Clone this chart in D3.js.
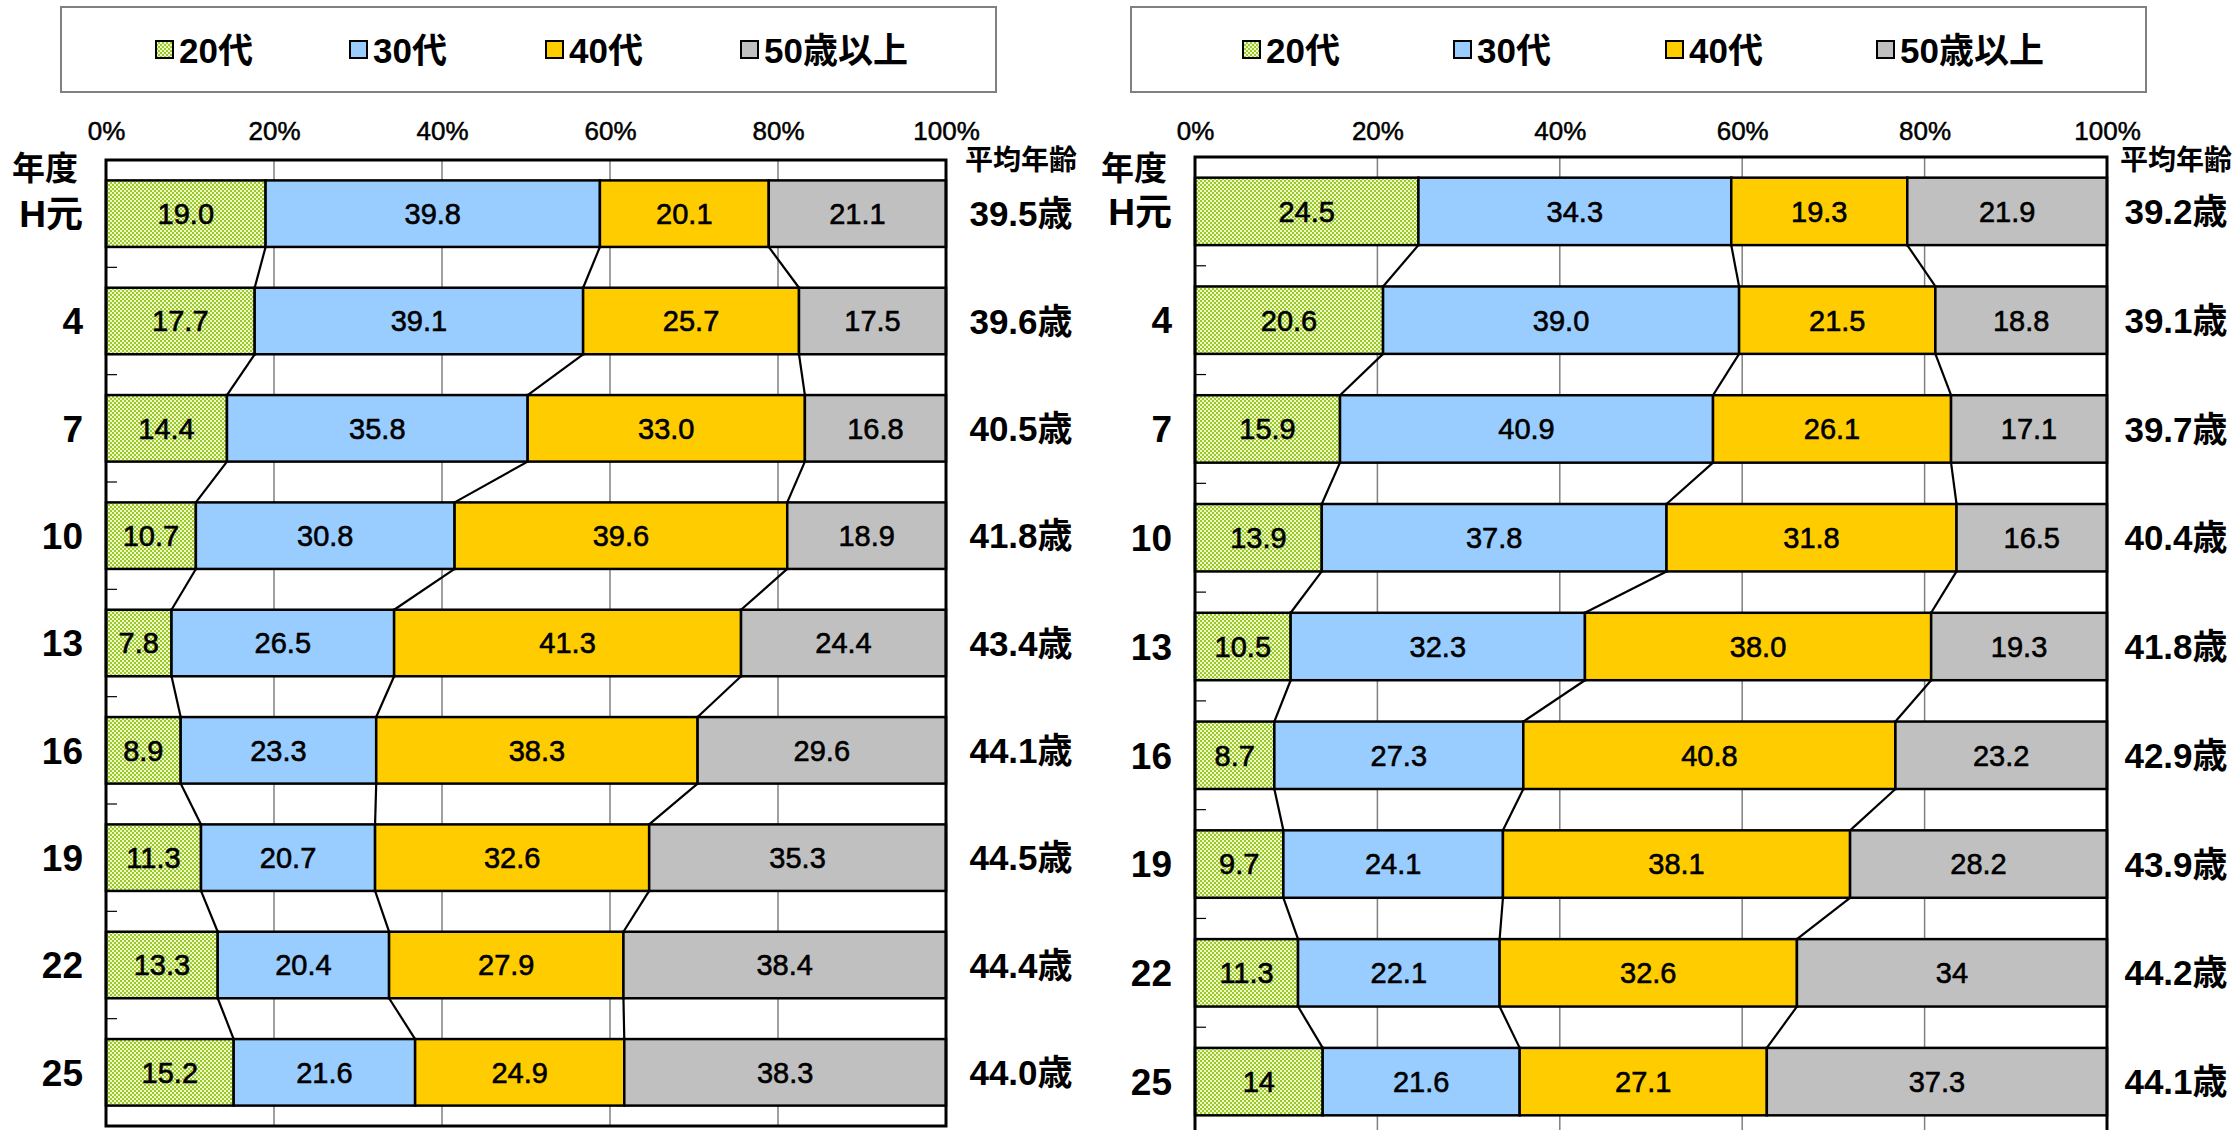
<!DOCTYPE html>
<html>
<head>
<meta charset="utf-8">
<script src="https://cdn.jsdelivr.net/npm/d3@7"></script>
<style>
  body { margin: 0; background: #fff; }
  text { font-family: "Liberation Sans", Arial, "Noto Sans CJK JP", sans-serif; fill: #000; }
</style>
</head>
<body>
<script>
// categories and ticks
var years = ["H元", "4", "7", "10", "13", "16", "19", "22", "25"];
var seriesNames = ["20代", "30代", "40代", "50歳以上"];
var xTicks = [0, 0.2, 0.4, 0.6, 0.8, 1];

// left chart, values as printed on the bars
var left20 = ["19.0", "17.7", "14.4", "10.7", "7.8", "8.9", "11.3", "13.3", "15.2"];
var left30 = ["39.8", "39.1", "35.8", "30.8", "26.5", "23.3", "20.7", "20.4", "21.6"];
var left40 = ["20.1", "25.7", "33.0", "39.6", "41.3", "38.3", "32.6", "27.9", "24.9"];
var left50 = ["21.1", "17.5", "16.8", "18.9", "24.4", "29.6", "35.3", "38.4", "38.3"];
var leftAvg = [39.5, 39.6, 40.5, 41.8, 43.4, 44.1, 44.5, 44.4, 44.0];

// right chart
var right20 = ["24.5", "20.6", "15.9", "13.9", "10.5", "8.7", "9.7", "11.3", "14"];
var right30 = ["34.3", "39.0", "40.9", "37.8", "32.3", "27.3", "24.1", "22.1", "21.6"];
var right40 = ["19.3", "21.5", "26.1", "31.8", "38.0", "40.8", "38.1", "32.6", "27.1"];
var right50 = ["21.9", "18.8", "17.1", "16.5", "19.3", "23.2", "28.2", "34", "37.3"];
var rightAvg = [39.2, 39.1, 39.7, 40.4, 41.8, 42.9, 43.9, 44.2, 44.1];

var colors = ["url(#dots)", "#99ccff", "#ffcc00", "#c0c0c0"];

var svg = d3.select("body").append("svg")
    .attr("width", 2239)
    .attr("height", 1130);

// checkered fill for 20代
var pat = svg.append("defs").append("pattern")
    .attr("id", "dots")
    .attr("width", 4).attr("height", 4)
    .attr("patternUnits", "userSpaceOnUse");
pat.append("rect").attr("width", 4).attr("height", 4).attr("fill", "#eef7c8");
pat.append("rect").attr("width", 2).attr("height", 2).attr("fill", "#9cc92a");
pat.append("rect").attr("x", 2).attr("y", 2).attr("width", 2).attr("height", 2).attr("fill", "#9cc92a");

drawChart({
    series: [left20, left30, left40, left50], avg: leftAvg,
    x0: 106, x1: 946, y0: 160, y1: 1126,
    legendBox: [61, 996], legendItems: [156, 350, 546, 741],
    avgX: 1021
});
drawChart({
    series: [right20, right30, right40, right50], avg: rightAvg,
    x0: 1195, x1: 2107, y0: 157, y1: 1136,
    legendBox: [1131, 2146], legendItems: [1243, 1454, 1666, 1877],
    avgX: 2176
});

function drawChart(c) {
    var g = svg.append("g");

    var rows = years.map(function (y, i) {
        var r = {year: y};
        seriesNames.forEach(function (s, k) { r[s] = +c.series[k][i]; });
        return r;
    });
    var stacked = d3.stack().keys(seriesNames).offset(d3.stackOffsetExpand)(rows);

    var x = d3.scaleLinear().domain([0, 1]).range([c.x0, c.x1]);
    var y = d3.scaleBand().domain(years).range([c.y0, c.y1])
        .paddingInner(0.38).paddingOuter(0.19);
    var bw = y.bandwidth();

    // legend
    g.append("rect")
        .attr("x", c.legendBox[0]).attr("y", 7)
        .attr("width", c.legendBox[1] - c.legendBox[0]).attr("height", 85)
        .attr("fill", "#fff").attr("stroke", "#808080").attr("stroke-width", 2);
    seriesNames.forEach(function (s, k) {
        var lx = c.legendItems[k];
        g.append("rect")
            .attr("x", lx).attr("y", 41).attr("width", 17).attr("height", 17)
            .attr("fill", colors[k]).attr("stroke", "#000").attr("stroke-width", 2);
        g.append("text")
            .attr("x", lx + 23).attr("y", 50).attr("dy", "0.36em")
            .attr("font-size", 35).attr("font-weight", "bold")
            .text(s);
    });

    // gridlines
    g.selectAll(".grid")
        .data(xTicks.slice(1, -1))
        .enter().append("line")
        .attr("x1", x).attr("x2", x)
        .attr("y1", c.y0).attr("y2", c.y1)
        .attr("stroke", "#808080").attr("stroke-width", 1.5);

    // category ticks between bands
    g.selectAll(".ctick")
        .data(years.slice(1))
        .enter().append("line")
        .attr("x1", c.x0).attr("x2", c.x0 + 11)
        .attr("y1", function (d, i) { return c.y0 + (i + 1) * y.step(); })
        .attr("y2", function (d, i) { return c.y0 + (i + 1) * y.step(); })
        .attr("stroke", "#000").attr("stroke-width", 1.2);

    // connector lines between bars
    for (var k = 0; k < seriesNames.length - 1; k++) {
        var layer = stacked[k];
        g.selectAll(".conn" + k)
            .data(layer.slice(0, -1))
            .enter().append("line")
            .attr("x1", function (d) { return x(d[1]); })
            .attr("y1", function (d) { return y(d.data.year) + bw; })
            .attr("x2", function (d, i) { return x(layer[i + 1][1]); })
            .attr("y2", function (d, i) { return y(layer[i + 1].data.year); })
            .attr("stroke", "#000").attr("stroke-width", 2.2);
    }

    // bars
    stacked.forEach(function (layer, k) {
        g.selectAll(".bar" + k)
            .data(layer)
            .enter().append("rect")
            .attr("x", function (d) { return x(d[0]); })
            .attr("y", function (d) { return y(d.data.year); })
            .attr("width", function (d) { return x(d[1]) - x(d[0]); })
            .attr("height", bw)
            .attr("fill", colors[k])
            .attr("stroke", "#000").attr("stroke-width", 2.5);

        g.selectAll(".val" + k)
            .data(layer)
            .enter().append("text")
            .attr("x", function (d) { return (x(d[0]) + x(d[1])) / 2; })
            .attr("y", function (d) { return y(d.data.year) + bw / 2; })
            .attr("dy", "0.36em")
            .attr("text-anchor", "middle")
            .attr("font-size", 29)
            .attr("stroke", "#000").attr("stroke-width", 0.6)
            .text(function (d, i) { return c.series[k][i]; });
    });

    // plot frame
    g.append("rect")
        .attr("x", c.x0).attr("y", c.y0)
        .attr("width", c.x1 - c.x0).attr("height", c.y1 - c.y0)
        .attr("fill", "none").attr("stroke", "#000").attr("stroke-width", 3);

    // percent axis on top
    var axis = g.append("g")
        .attr("transform", "translate(0,143)")
        .call(d3.axisTop(x).tickValues(xTicks).tickFormat(d3.format(".0%")).tickSize(0).tickPadding(3));
    axis.select(".domain").remove();
    axis.selectAll("text")
        .attr("font-size", 26).attr("font-family", null)
        .attr("stroke", "#000").attr("stroke-width", 0.5);

    // year labels
    g.selectAll(".cat")
        .data(years)
        .enter().append("text")
        .attr("x", c.x0 - 23)
        .attr("y", function (d) { return y(d) + bw / 2; })
        .attr("dy", "0.36em")
        .attr("text-anchor", "end")
        .attr("font-size", 37).attr("font-weight", "bold")
        .text(function (d) { return d; });

    g.append("text")
        .attr("x", c.x0 - 28).attr("y", 168).attr("dy", "0.36em")
        .attr("text-anchor", "end")
        .attr("font-size", 33).attr("font-weight", "bold")
        .text("年度");

    // average age column
    g.append("text")
        .attr("x", c.avgX).attr("y", 160).attr("dy", "0.36em")
        .attr("text-anchor", "middle")
        .attr("font-size", 28).attr("font-weight", "bold")
        .text("平均年齢");

    g.selectAll(".avg")
        .data(c.avg)
        .enter().append("text")
        .attr("x", c.avgX)
        .attr("y", function (d, i) { return y(years[i]) + bw / 2; })
        .attr("dy", "0.36em")
        .attr("text-anchor", "middle")
        .attr("font-size", 35).attr("font-weight", "bold")
        .text(function (d) { return d.toFixed(1) + "歳"; });
}
</script>
</body>
</html>
